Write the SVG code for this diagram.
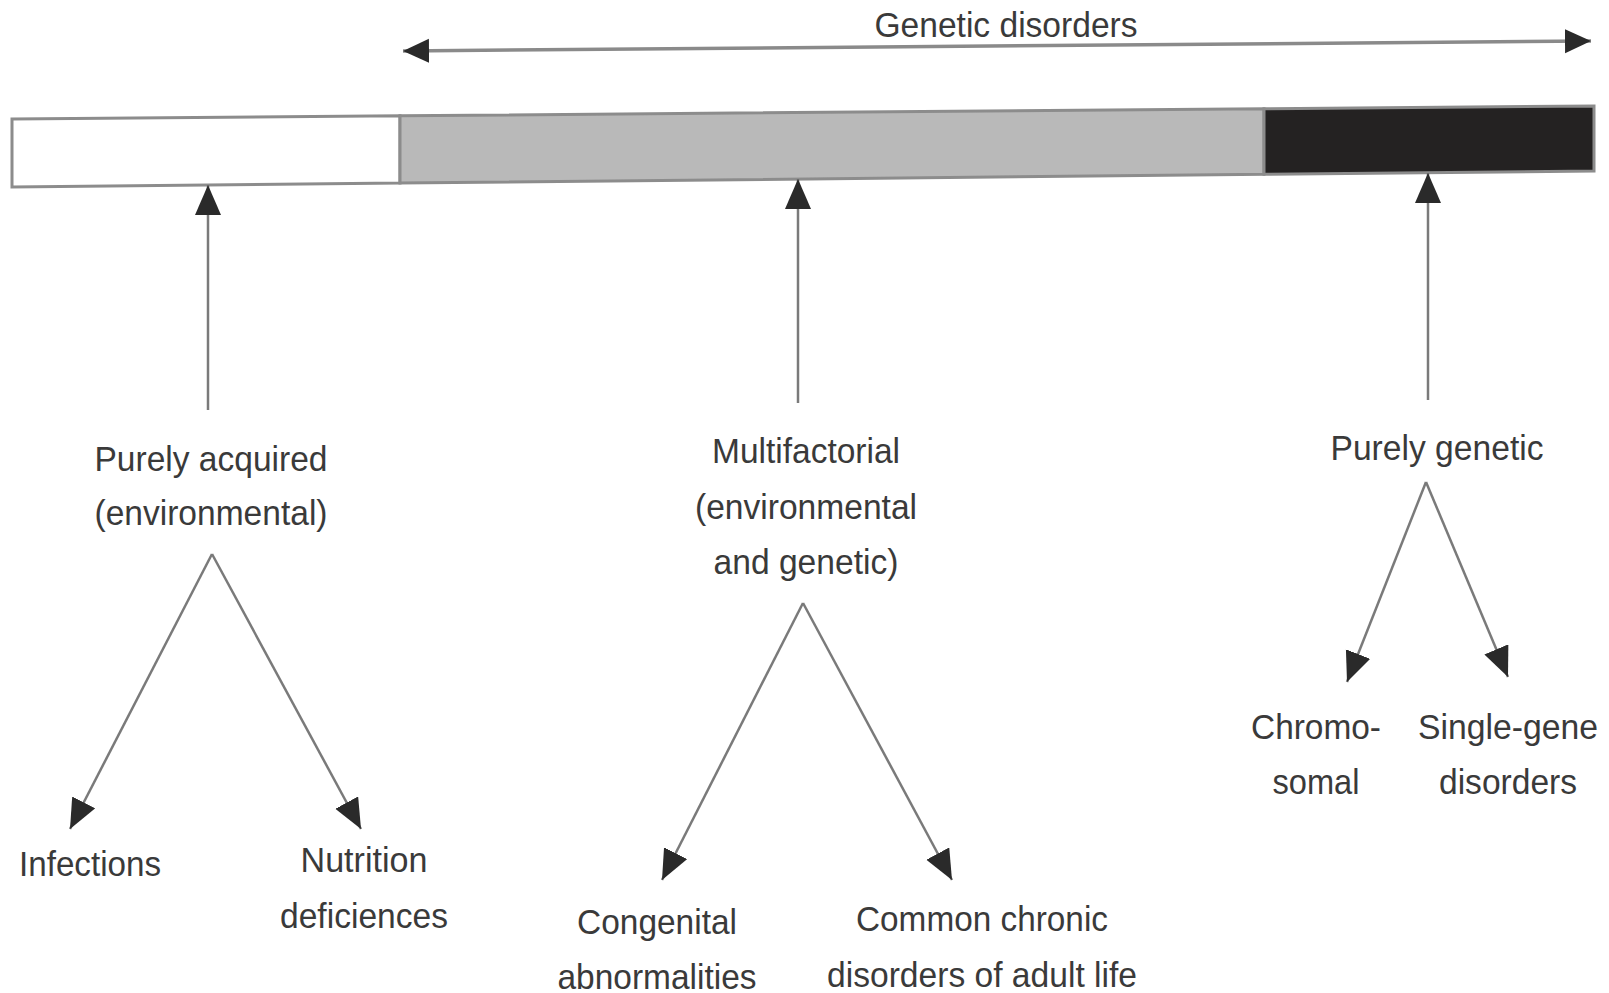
<svg xmlns="http://www.w3.org/2000/svg" width="1609" height="993" viewBox="0 0 1609 993">
<style>
.t{font-family:"Liberation Sans",Arial,sans-serif;font-size:35px;fill:#3a3a3a;text-anchor:middle}
.ln{stroke:#7a7a7a;stroke-width:2.5;fill:none}
.top{stroke:#8a8a8a;stroke-width:3.5;fill:none}
.bar{stroke:#8c8c8c;stroke-width:3}
</style>
<defs>
<marker id="ah" markerUnits="userSpaceOnUse" markerWidth="32" markerHeight="28" refX="30" refY="13" orient="auto-start-reverse" viewBox="0 0 32 28">
<path d="M0,0 L30,13 L0,26 z" fill="#2a2a2a"/>
</marker>
<marker id="ahs" markerUnits="userSpaceOnUse" markerWidth="30" markerHeight="26" refX="26" refY="12" orient="auto-start-reverse" viewBox="0 0 30 26">
<path d="M0,0 L26,12 L0,24 z" fill="#2a2a2a"/>
</marker>
</defs>
<g id="bar">
<polygon class="bar" fill="#ffffff" points="12,119 400,115.8 400,183.1 12,187"/>
<polygon class="bar" fill="#b9b9b9" points="400,115.8 1264,108.7 1264,174.3 400,183.1"/>
<polygon class="bar" fill="#242222" points="1264,108.7 1594,106 1594,171 1264,174.3"/>
</g>
<g id="genetic-disorders">
<text class="t" x="1006" y="37" textLength="263" lengthAdjust="spacingAndGlyphs">Genetic disorders</text>
</g>
<g id="purely-acquired">
<text class="t" x="211" y="471" textLength="233" lengthAdjust="spacingAndGlyphs">Purely acquired</text>
<text class="t" x="211" y="525" textLength="233" lengthAdjust="spacingAndGlyphs">(environmental)</text>
</g>
<g id="infections"><text class="t" x="90" y="876" textLength="142" lengthAdjust="spacingAndGlyphs">Infections</text></g>
<g id="nutrition">
<text class="t" x="364" y="872" textLength="127" lengthAdjust="spacingAndGlyphs">Nutrition</text>
<text class="t" x="364" y="928" textLength="168" lengthAdjust="spacingAndGlyphs">deficiences</text>
</g>
<g id="multifactorial">
<text class="t" x="806" y="463" textLength="188" lengthAdjust="spacingAndGlyphs">Multifactorial</text>
<text class="t" x="806" y="519" textLength="222" lengthAdjust="spacingAndGlyphs">(environmental</text>
<text class="t" x="806" y="574" textLength="185" lengthAdjust="spacingAndGlyphs">and genetic)</text>
</g>
<g id="congenital">
<text class="t" x="657" y="934" textLength="160" lengthAdjust="spacingAndGlyphs">Congenital</text>
<text class="t" x="657" y="989" textLength="199" lengthAdjust="spacingAndGlyphs">abnormalities</text>
</g>
<g id="common-chronic">
<text class="t" x="982" y="931" textLength="252" lengthAdjust="spacingAndGlyphs">Common chronic</text>
<text class="t" x="982" y="987" textLength="310" lengthAdjust="spacingAndGlyphs">disorders of adult life</text>
</g>
<g id="purely-genetic">
<text class="t" x="1437" y="460" textLength="213" lengthAdjust="spacingAndGlyphs">Purely genetic</text>
</g>
<g id="chromosomal">
<text class="t" x="1316" y="739" textLength="130" lengthAdjust="spacingAndGlyphs">Chromo-</text>
<text class="t" x="1316" y="794" textLength="87" lengthAdjust="spacingAndGlyphs">somal</text>
</g>
<g id="single-gene">
<text class="t" x="1508" y="739" textLength="180" lengthAdjust="spacingAndGlyphs">Single-gene</text>
<text class="t" x="1508" y="794" textLength="138" lengthAdjust="spacingAndGlyphs">disorders</text>
</g>
<g id="connectors">
<line class="top" x1="403" y1="51" x2="1591" y2="41" marker-start="url(#ahs)" marker-end="url(#ahs)"/>
<line class="ln" x1="208" y1="410" x2="208" y2="185" marker-end="url(#ah)"/>
<line class="ln" x1="798" y1="403" x2="798" y2="179" marker-end="url(#ah)"/>
<line class="ln" x1="1428" y1="400" x2="1428" y2="173" marker-end="url(#ah)"/>
<line class="ln" x1="212" y1="554" x2="70" y2="829" marker-end="url(#ah)"/>
<line class="ln" x1="212" y1="554" x2="361" y2="829" marker-end="url(#ah)"/>
<line class="ln" x1="803" y1="603" x2="662" y2="880" marker-end="url(#ah)"/>
<line class="ln" x1="803" y1="603" x2="952" y2="880" marker-end="url(#ah)"/>
<line class="ln" x1="1426" y1="482" x2="1347" y2="682" marker-end="url(#ah)"/>
<line class="ln" x1="1426" y1="482" x2="1508" y2="677" marker-end="url(#ah)"/>
</g>
</svg>
